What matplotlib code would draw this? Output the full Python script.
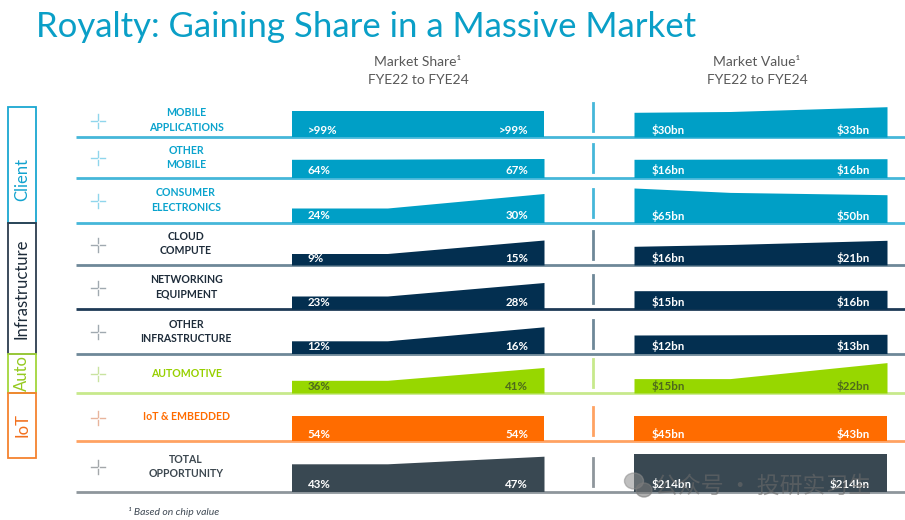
import numpy as np
import matplotlib.pyplot as plt
from matplotlib.patches import Rectangle, Ellipse

# Dados
segments = ["Client", "Infrastructure", "Auto", "IoT"]
row_labels = ["MOBILE\nAPPLICATIONS", "OTHER\nMOBILE", "CONSUMER\nELECTRONICS",
              "CLOUD\nCOMPUTE", "NETWORKING\nEQUIPMENT", "OTHER\nINFRASTRUCTURE",
              "AUTOMOTIVE", "IoT & EMBEDDED", "TOTAL\nOPPORTUNITY"]
row_group = ["client", "client", "client", "infra", "infra", "infra", "auto", "iot", "total"]

share_fye22 = [">99%", "64%", "24%", "9%", "23%", "12%", "36%", "54%", "43%"]
share_fye24 = [">99%", "67%", "30%", "15%", "28%", "16%", "41%", "54%", "47%"]
value_fye22 = [30, 16, 65, 16, 15, 12, 15, 45, 214]
value_fye24 = [33, 16, 50, 21, 16, 13, 22, 43, 214]

# altura das áreas (FYE22, FYE23, FYE24), em px, estimada na figura
share_trend = [[26, 26, 26], [18.2, 18.4, 19], [14.5, 14.5, 29], [11.5, 11.5, 25],
               [13, 13, 26.5], [12.7, 12.7, 26.7], [12.7, 12.7, 25.5], [25, 25, 25],
               [27.7, 27.7, 35.3]]
value_trend = [[24.7, 25.5, 30.3], [18.2, 18.4, 18.8], [34.5, 30.1, 27.8], [18.7, 20.5, 24.7],
               [18.3, 18.4, 18.7], [18.5, 18.7, 19.2], [14.4, 14.4, 30.4], [25, 25, 25],
               [38, 38, 38]]

# Estilos
fill_color = {"client": "#009fc6", "infra": "#032f50", "auto": "#97d700",
              "iot": "#ff6c00", "total": "#394852"}
line_color = {"client": "#45b7d9", "infra": "#6e8898", "auto": "#c7e98c",
              "iot": "#ffa262", "total": "#8e969c"}
label_color = {"client": "#0aa3cd", "infra": "#1e2c3a", "auto": "#97d000",
               "iot": "#ff6c00", "total": "#3d4850"}
cross_color = {"client": "#8fd6ec", "infra": "#a0a9b0", "auto": "#c9e3a0",
               "iot": "#e8b49c", "total": "#a3a7aa"}
text_in = {"client": "white", "infra": "white", "auto": "#4e6a1c",
           "iot": "white", "total": "white"}
seg_edge = ["#1aa7d1", "#2c3d4e", "#a3d63a", "#f5822f"]
seg_text = ["#12a3cf", "#1c2a38", "#94c91e", "#f26f1c"]
seg_text_shift = [15, 0, 0, 0]

row_bottom = [137, 177.5, 222.5, 265, 309, 353.5, 393, 441, 491.5]
row_top = [103] + row_bottom[:-1]
line_specific = {3: "#6e8898", 4: "#1e3a56", 5: "#6e8898"}
seg_bounds = [106.7, 222.7, 354, 392.7, 457.7]

share_x0, share_x1 = 291.5, 544
value_x0, value_x1 = 634, 887
kink = 0.38

fig = plt.figure(figsize=(9.05, 5.2), dpi=100)
ax = fig.add_axes([0, 0, 1, 1])
ax.set_xlim(0, 905)
ax.set_ylim(520, 0)
ax.axis("off")

ax.text(36, 27, "Royalty: Gaining Share in a Massive Market", fontsize=25,
        family="Lato", fontweight="normal", color="#0a9fc7", ha="left", va="center")

for cx, title in [(418, "Market Share\u00b9"), (757, "Market Value\u00b9")]:
    ax.text(cx, 62, title, fontsize=10, family="Lato", color="#595959", ha="center", va="center")
    ax.text(cx, 80, "FYE22 to FYE24", fontsize=10, family="Lato", color="#595959",
            ha="center", va="center")

# caixas dos segmentos
for i, seg in enumerate(segments):
    y0, y1 = seg_bounds[i], seg_bounds[i + 1]
    ax.add_patch(Rectangle((8.3, y0), 27.4, y1 - y0, fill=False, edgecolor=seg_edge[i],
                           linewidth=1.3, zorder=3))
    ax.text(22, (y0 + y1) / 2 + seg_text_shift[i], seg, rotation=90, fontsize=12, family="Lato",
            color=seg_text[i], ha="center", va="center")

for i in range(len(row_labels)):
    g = row_group[i]
    yb = row_bottom[i]
    mid = (row_top[i] + yb) / 2
    lc = line_specific.get(i, line_color[g])
    ax.plot([76, 905], [yb, yb], color=lc, linewidth=2, zorder=1, solid_capstyle="butt")

    # cruz
    cx, cy = 98, mid + 1
    for a, b in [((cx - 7, cx - 1.5), (cy, cy)), ((cx + 1.5, cx + 7), (cy, cy)),
                 ((cx, cx), (cy - 7, cy - 1.5)), ((cx, cx), (cy + 1.5, cy + 7))]:
        ax.plot(a, b, color=cross_color[g], linewidth=1)

    ax.text(186, mid, row_labels[i], fontsize=7.6, family="Lato", fontweight="bold",
            color=label_color[g], ha="center", va="center", linespacing=1.35)

    # áreas
    for (x0, x1, trend) in [(share_x0, share_x1, share_trend[i]),
                            (value_x0, value_x1, value_trend[i])]:
        xs = [x0, x0 + kink * (x1 - x0), x1]
        tops = [yb - h for h in trend]
        ax.fill_between(xs, tops, [yb] * 3, color=fill_color[g], linewidth=0, zorder=2)

    ax.plot([592.5, 592.5], [yb - 34, yb - 6], color=lc if i != 4 else "#6e8898",
            linewidth=2, zorder=2)

    ty = yb - 7
    kw = dict(fontsize=8.3, family="Lato", fontweight="bold", color=text_in[g],
              va="center", zorder=4)
    ax.text(share_x0 + 16, ty, share_fye22[i], ha="left", **kw)
    ax.text(share_x1 - 16, ty, share_fye24[i], ha="right", **kw)
    ax.text(value_x0 + 18, ty, f"${value_fye22[i]}bn", ha="left", **kw)
    ax.text(value_x1 - 17, ty, f"${value_fye24[i]}bn", ha="right", **kw)

ax.text(128, 512, "\u00b9 Based on chip value", fontsize=7.5, family="Lato", style="italic",
        color="#404a55", ha="left", va="center")

# marca d'água
ax.add_patch(Ellipse((634, 481), 19, 16, color="#8c8c8c", alpha=0.55, zorder=5))
ax.add_patch(Ellipse((644, 490), 16, 14, color="#7a7a7a", alpha=0.6, zorder=5))
ax.text(655, 486, "公众号 · 投研实习生", fontsize=16.5, family=["Noto Sans CJK SC", "DejaVu Sans"],
        color="#6a6a6a", alpha=0.6, ha="left", va="center", zorder=5)

fig.savefig("out.png", dpi=100)
